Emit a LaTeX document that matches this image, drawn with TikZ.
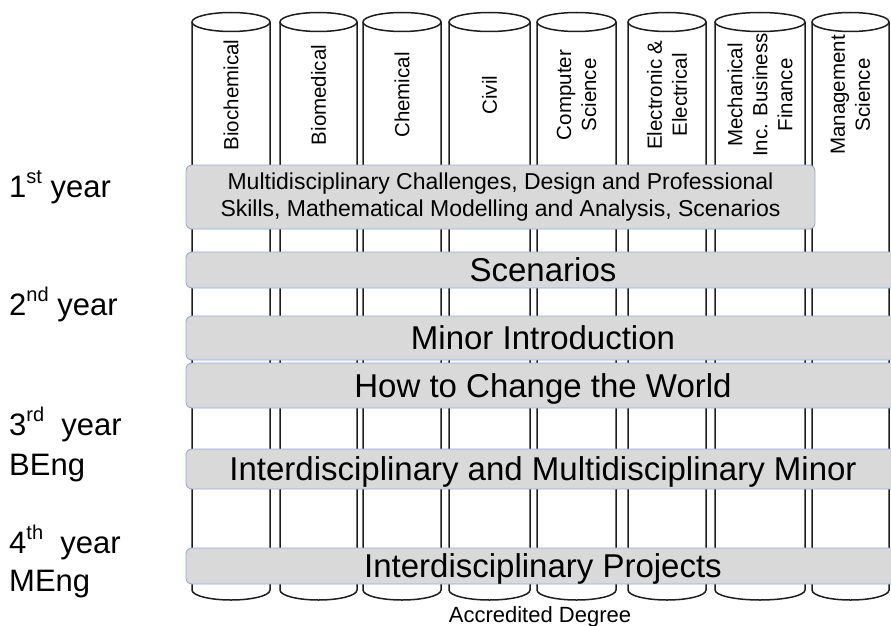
\documentclass[tikz,border=0pt]{standalone}
\usepackage{fontspec}
\setmainfont{Liberation Sans}
\usetikzlibrary{calc}

\definecolor{bandfill}{HTML}{D9D9D9}
\definecolor{bandline}{HTML}{94AEDD}
\definecolor{pillarline}{HTML}{1E1E1E}

\newcommand{\yearsup}[1]{\raisebox{0.42em}{\fontsize{20}{20}\selectfont #1}}

\tikzset{
    pillar/.style={draw=pillarline, line width=1.5pt, fill=white},
    band/.style={draw=bandline, line width=0.9pt, fill=bandfill, rounded corners=6pt, inner sep=0pt},
    bandtext/.style={font=\fontsize{33}{38}\selectfont, text height=23.5pt, text depth=0pt},
    degreelabel/.style={rotate=90, align=center, font=\fontsize{20.5}{25}\selectfont},
    yearlabel/.style={anchor=base west, inner sep=0pt, font=\fontsize{31}{35}\selectfont}
}

\begin{document}
\begin{tikzpicture}[x=1pt, y=-1pt]
        \useasboundingbox (0,0) rectangle (891,626);
        \clip (0,0) rectangle (891,626);

        % pillars (one per accredited degree)
        % -----------------------------------
        \foreach \xl/\xr [count=\i, evaluate=\xl as \rx using (\xr-\xl)/2] in
            {192/270, 280/357, 363/441, 449/530, 537/616, 628/706, 715/805, 812/889}
        {
            \coordinate (top\i) at ({(\xl+\xr)/2}, 22);
            \filldraw[pillar] (\xl,22) -- (\xl,590)
                arc[start angle=180, end angle=360, x radius=\rx pt, y radius=10pt] -- (\xr,22);
            \filldraw[pillar] (top\i) ellipse[x radius=\rx pt, y radius=9.5pt];
        }

        % degree names
        \foreach \i/\txt in {1/Biochemical, 2/Biomedical, 3/Chemical, 4/Civil,
                5/{Computer\\Science}, 6/{Electronic \&\\Electrical},
                7/{Mechanical\\Inc. Business\\Finance}, 8/{Management\\Science}}
            \node[degreelabel] (deg\i) at ($(top\i)+(0,73)$) {\txt};

        % bands across the pillars
        % ------------------------
        \node[band, minimum width=629, minimum height=64, align=center,
              font=\fontsize{23}{27}\selectfont] (b1) at (500.5,197)
            {Multidisciplinary Challenges, Design and Professional\\Skills, Mathematical Modelling and Analysis, Scenarios};

        \foreach \y/\h/\txt [count=\i from 2] in {270/36/Scenarios, 338/44/Minor Introduction,
                385.5/45/How to Change the World, 469/40/Interdisciplinary and Multidisciplinary Minor,
                566/36/Interdisciplinary Projects}
            \node[band, bandtext, minimum width=714, minimum height=\h] (b\i) at (543,\y) {\txt};

        % year labels
        \node[yearlabel] (y1) at (9,197) {1\yearsup{st} year};
        \node[yearlabel] (y2) at (9,315) {2\yearsup{nd} year};
        \node[yearlabel] (y3) at (9,435) {3\yearsup{rd}\ \ year};
        \node[yearlabel] (beng) at (9,475) {BEng};
        \node[yearlabel] (y4) at (9,553) {4\yearsup{th}\ \ year};
        \node[yearlabel] (meng) at (9,591) {MEng};

        % caption under the pillars
        \node[anchor=base, font=\fontsize{22}{26}\selectfont] (acc) at (540,622) {Accredited Degree};

    \end{tikzpicture}
\end{document}
